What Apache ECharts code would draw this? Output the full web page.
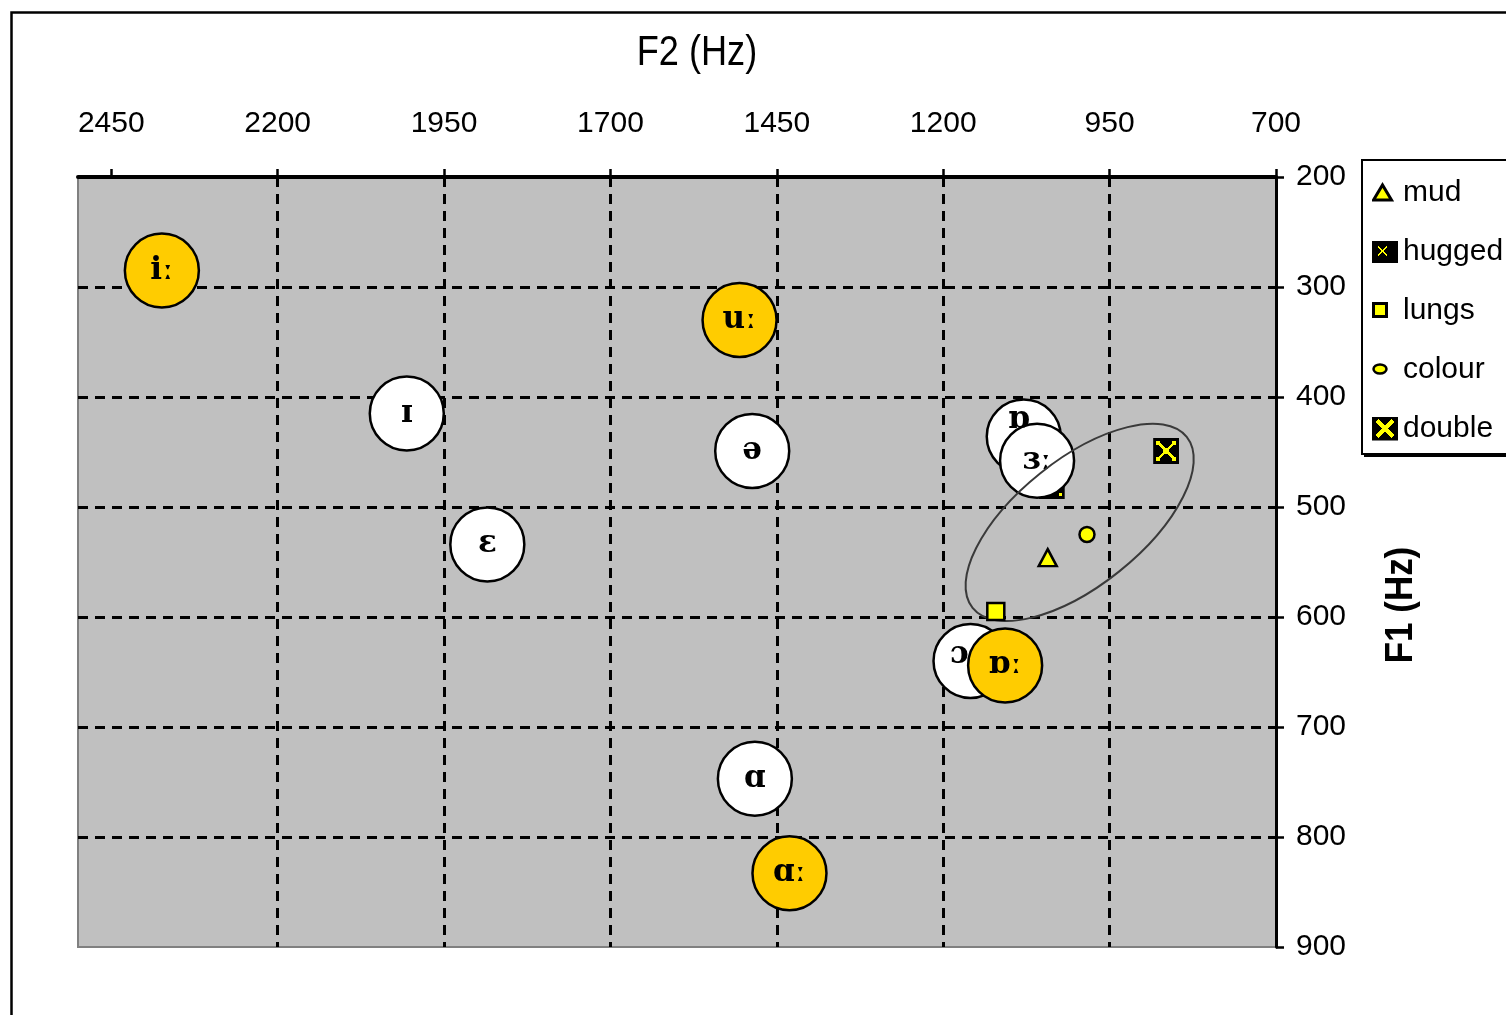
<!DOCTYPE html>
<html><head><meta charset="utf-8">
<script src="https://cdn.jsdelivr.net/npm/echarts@6/dist/echarts.min.js"></script>
<style>html,body{margin:0;padding:0;background:#fff}#c{width:1506px;height:1015px}</style>
</head><body><div id="c"></div>
<script>
// ---- data ----
const xTicks = [700, 950, 1200, 1450, 1700, 1950, 2200, 2450];
const yTicks = [200, 300, 400, 500, 600, 700, 800, 900];
const shortVowels = ['ɪ', 'ə', 'ɛ', 'ɒ', 'ɜː', 'ɔ', 'ɑ'];
const shortF2 = [2006, 1487, 1885, 1079, 1059, 1159, 1483];
const shortF1 = [415, 449, 534, 436, 458, 640, 747];
const longVowels = ['iː', 'uː', 'ɒː', 'ɑː'];
const longF2 = [2374, 1506, 1107, 1431];
const longF1 = [285, 330, 644, 833];
const markerNames = ['mud', 'hugged', 'lungs', 'colour', 'double'];
const markerF2 = [1043, 1037, 1121, 984, 865];
const markerF1 = [546, 481, 595, 525, 449];
const ellipseCentre = [995, 514];

// ---- styling ----
const img = s => 'image://data:image/svg+xml;charset=utf-8,' + encodeURIComponent(s);
const svg = (w, h, body) => `<svg xmlns="http://www.w3.org/2000/svg" width="${w}" height="${h}" viewBox="0 0 ${w} ${h}" shape-rendering="crispEdges">${body}</svg>`;
const Y = '#FFFF00';
const symbols = {
  hugged: img(svg(26, 26, `<rect x="0" y="0" width="26" height="26" fill="#000"/><path d="M8 8L18 18M18 8L8 18" stroke="${Y}" stroke-width="2.5"/><rect x="20" y="20" width="3" height="3" fill="${Y}"/>`)),
  double: img(svg(26, 26, `<rect x="0" y="0" width="26" height="26" fill="#000"/><path d="M6 6L20 20M20 6L6 20" stroke="${Y}" stroke-width="2.5"/><rect x="3" y="3" width="4" height="4" fill="${Y}"/><rect x="19" y="3" width="4" height="4" fill="${Y}"/><rect x="3" y="19" width="4" height="4" fill="${Y}"/><rect x="19" y="19" width="4" height="4" fill="${Y}"/><rect x="10" y="10" width="6" height="6" fill="${Y}"/>`))
};
const legendIcons = {
  mud: img(svg(26, 24, `<polygon points="1.5,19.5 10.5,4.5 19.5,19.5" fill="${Y}" stroke="#000" stroke-width="3" shape-rendering="auto"/>`)),
  hugged: img(svg(26, 24, `<rect x="0" y="1" width="26" height="22" fill="#000"/><path d="M6 7L15 16M15 7L6 16" stroke="${Y}" stroke-width="2"/>`)),
  lungs: img(svg(26, 24, `<rect x="1.5" y="5" width="13" height="13" fill="${Y}" stroke="#000" stroke-width="3"/>`)),
  colour: img(svg(26, 24, `<ellipse cx="8" cy="11.5" rx="6.5" ry="4.5" fill="${Y}" stroke="#000" stroke-width="2.5" shape-rendering="auto"/>`)),
  double: img(svg(26, 24, `<rect x="0" y="0" width="26" height="24" fill="#000"/><path d="M5 4L21 20M21 4L5 20" stroke="${Y}" stroke-width="4"/>`))
};
const labelOffsets = { 'ɒ': [-5, -17], 'ɔ': [-11, -6] };
const FONT = 'Liberation Sans';

function bubbleData(labels, f2, f1) {
  return labels.map((n, i) => {
    const d = { name: n, value: [f2[i], f1[i]] };
    if (labelOffsets[n]) d.label = { offset: labelOffsets[n] };
    return d;
  });
}
function bubbleSeries(name, labels, f2, f1, fill) {
  return {
    name: name, type: 'scatter', z: 3,
    symbol: 'circle', symbolSize: 74,
    itemStyle: { color: fill, borderColor: '#000', borderWidth: 2.5, opacity: 1 },
    label: { show: true, position: 'inside', formatter: '{b}', fontFamily: 'DejaVu Serif', fontWeight: 'bold', fontSize: 31, color: '#000' },
    emphasis: { disabled: true },
    data: bubbleData(labels, f2, f1)
  };
}
const markerStyle = {
  mud: { symbol: 'triangle', symbolSize: [18, 17] },
  hugged: { symbol: symbols.hugged, symbolSize: 26 },
  lungs: { symbol: 'rect', symbolSize: 17 },
  colour: { symbol: 'circle', symbolSize: 15 },
  double: { symbol: symbols.double, symbolSize: 26 }
};
function markerSeries(i) {
  const n = markerNames[i];
  return Object.assign({
    name: n, type: 'scatter', z: n === 'hugged' ? 2 : 5,
    itemStyle: { color: Y, borderColor: '#000', borderWidth: 2.5, opacity: 1 },
    emphasis: { disabled: true },
    data: [[markerF2[i], markerF1[i]]]
  }, markerStyle[n]);
}
const plain = v => String(v);

const chart = echarts.init(document.getElementById('c'), null, { renderer: 'canvas' });
const option = {
  animation: false,
  backgroundColor: '#fff',
  textStyle: { fontFamily: FONT },
  grid: { left: 78, right: 230, top: 177, bottom: 68, show: true, backgroundColor: '#c0c0c0', borderColor: '#808080', borderWidth: 2 },
  xAxis: {
    type: 'value', position: 'top', inverse: true, min: 700, max: 2500, interval: 250,
    axisLine: { show: true, onZero: false, lineStyle: { color: '#000', width: 4 } },
    axisTick: { show: true, length: 8, customValues: xTicks, lineStyle: { color: '#000', width: 2.5 } },
    axisLabel: { customValues: xTicks, formatter: plain, margin: 38, fontSize: 30, fontFamily: FONT, color: '#000' },
    splitLine: { show: true, showMinLine: false, showMaxLine: false, lineStyle: { color: '#000', width: 3, type: [10, 7] } }
  },
  yAxis: {
    type: 'value', position: 'right', inverse: true, min: 200, max: 900, interval: 100,
    axisLine: { show: true, onZero: false, lineStyle: { color: '#000', width: 3 } },
    axisTick: { show: true, length: 8, customValues: yTicks, lineStyle: { color: '#000', width: 2.5 } },
    axisLabel: { customValues: yTicks, formatter: plain, margin: 20, fontSize: 30, fontFamily: FONT, color: '#000' },
    splitLine: { show: true, showMinLine: false, showMaxLine: false, lineStyle: { color: '#000', width: 3, type: [10, 7] } }
  },
  legend: {
    data: markerNames.map(n => ({ name: n, icon: legendIcons[n] })),
    orient: 'vertical', left: 1372, top: 177, padding: 0, itemGap: 28,
    itemWidth: 26, itemHeight: 24, selectedMode: false, z: 10,
    textStyle: { fontSize: 30, fontFamily: FONT, color: '#000', lineHeight: 31 }
  },
  graphic: [
    { type: 'rect', z: 0, silent: true, shape: { x: 11.5, y: 12.5, width: 1700, height: 1200 }, style: { fill: 'none', stroke: '#000', lineWidth: 2.5 } },
    { type: 'rect', z: 8, silent: true, shape: { x: 1364, y: 162, width: 300, height: 295 }, style: { fill: '#000' } },
    { type: 'rect', z: 9, silent: true, shape: { x: 1362, y: 160, width: 300, height: 294 }, style: { fill: '#fff', stroke: '#000', lineWidth: 2 } },
    { type: 'text', z: 9, silent: true, x: 697, y: 53, scaleX: 0.86,
      style: { text: 'F2 (Hz)', font: 'normal 42px "Liberation Sans"', fill: '#000', align: 'center', verticalAlign: 'middle', textAlign: 'center', textVerticalAlign: 'middle' } },
    { type: 'text', z: 9, silent: true, x: 1402, y: 605, rotation: Math.PI / 2, scaleX: 0.92,
      style: { text: 'F1 (Hz)', font: 'bold 38px "Liberation Sans"', fill: '#000', align: 'center', verticalAlign: 'middle', textAlign: 'center', textVerticalAlign: 'middle' } }
  ],
  series: [
    markerSeries(1),
    bubbleSeries('short vowels', shortVowels, shortF2, shortF1, '#FFFFFF'),
    bubbleSeries('long vowels', longVowels, longF2, longF1, '#FFCC00'),
    {
      name: 'cluster', type: 'custom', z: 4, silent: true,
      data: [ellipseCentre],
      renderItem: function (params, api) {
        const c = api.coord([api.value(0), api.value(1)]);
        return {
          type: 'ellipse', x: c[0], y: c[1], rotation: 38.6 * Math.PI / 180,
          shape: { cx: 0, cy: 0, rx: 137, ry: 63 },
          style: { fill: 'none', stroke: '#3a3a3a', lineWidth: 2 }
        };
      }
    },
    markerSeries(0), markerSeries(2), markerSeries(3), markerSeries(4)
  ]
};
chart.setOption(option);
</script>
</body></html>
